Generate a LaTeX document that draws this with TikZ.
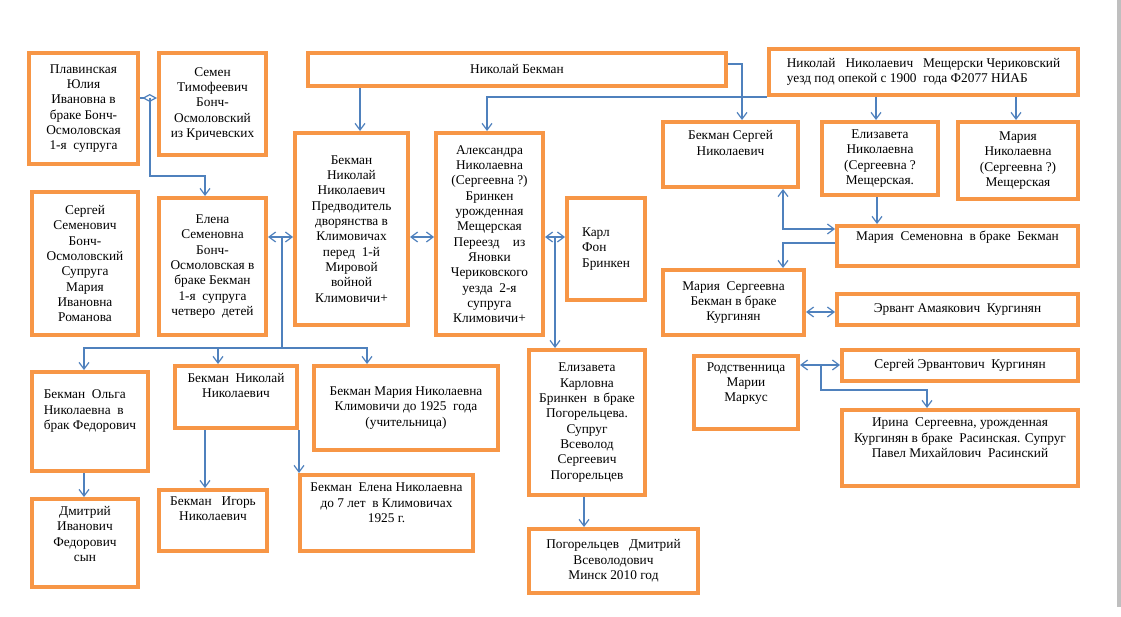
\documentclass[tikz,border=0pt]{standalone}
\usepackage{fontspec}
\setmainfont{Liberation Serif}
\usetikzlibrary{arrows.meta}
\definecolor{boxorange}{HTML}{F79646}
\definecolor{linkblue}{HTML}{4F81BD}

\begin{document}
\begin{tikzpicture}[x=0.75pt,y=-0.75pt,>={Straight Barb[length=5pt,width=7.5pt]},
  font=\fontsize{10}{11.5}\selectfont,
  person/.style 2 args={draw=boxorange,line width=3pt,minimum width=#1*0.75pt,
    minimum height=#2*0.75pt,inner sep=2pt,align=center},
  link/.style={draw=linkblue,line width=0.9pt}]
  \useasboundingbox[fill=white] (0,0) rectangle (1121,617);
  \fill[gray!50] (1117,0) rectangle (1121,607);

  % верхний ряд
  \node[person={109}{111}] (plav) at (83.5,108.5) {Плавинская\\Юлия\\Ивановна в\\браке Бонч-\\Осмоловская\\1-я~~супруга};
  \node[person={107}{102}] (semen) at (212.5,104) {Семен\\Тимофеевич\\Бонч-\\Осмоловский\\из Кричевских};
  \node[person={418}{33}] (nikb) at (517,69.5) {Николай Бекман};
  \node[person={309}{46},align=left] (nnm) at (923.5,72) {Николай~~~Николаевич~~~Мещерски Чериковский\\уезд под опекой с 1900~~года Ф2077 НИАБ};

  % второй ряд
  \node[person={135}{65}] (bsn) at (730.5,154.5) {Бекман Сергей\\Николаевич\\[6pt]};
  \node[person={116}{73}] (elizn) at (880,158.5) {Елизавета\\Николаевна\\(Сергеевна ?\\Мещерская.};
  \node[person={120}{77}] (marian) at (1018,160.5) {Мария\\Николаевна\\(Сергеевна ?)\\Мещерская};
  \node[person={241}{40}] (marsem) at (957.5,246) {Мария~~Семеновна~~в браке~~Бекман\\[4pt]};
  \node[person={113}{192}] (bnn) at (351.5,229) {Бекман\\Николай\\Николаевич\\Предводитель\\дворянства в\\Климовичах\\перед~~1-й\\Мировой\\войной\\Климовичи+};
  \node[person={107}{202}] (alex) at (489.5,234) {Александра\\Николаевна\\(Сергеевна ?)\\Бринкен\\урожденная\\Мещерская\\Переезд~~~~из\\Яновки\\Чериковского\\уезда~~2-я\\супруга\\Климовичи+};
  \node[person={78}{102},align=left] (karl) at (606,249) {Карл\\Фон\\Бринкен};
  \node[person={106}{143}] (sergs) at (85,263.5) {Сергей\\Семенович\\Бонч-\\Осмоловский\\Супруга\\Мария\\Ивановна\\Романова};
  \node[person={107}{137}] (elena) at (212.5,266.5) {Елена\\Семеновна\\Бонч-\\Осмоловская в\\браке Бекман\\1-я~~супруга\\четверо~~детей};
  \node[person={141}{65}] (marsk) at (733.5,302.5) {Мария~~Сергеевна\\Бекман в браке\\Кургинян};
  \node[person={241}{31}] (ervant) at (957.5,309.5) {Эрвант Амаякович~~Кургинян};

  % нижние ряды
  \node[person={104}{73}] (rodst) at (746,392.5) {Родственница\\Марии\\Маркус\\[4pt]};
  \node[person={236}{31}] (serge) at (960,365.5) {Сергей Эрвантович~~Кургинян};
  \node[person={236}{76}] (irina) at (960,448) {Ирина~~Сергеевна, урожденная\\Кургинян в браке~~Расинская. Супруг\\Павел Михайлович~~Расинский\\[4pt]};
  \node[person={116}{99},align=left] (olga) at (90,421.5) {Бекман~~Ольга\\Николаевна~~в\\брак Федорович\\[6pt]};
  \node[person={106}{88}] (dmitr) at (85,543) {Дмитрий\\Иванович\\Федорович\\сын\\[2pt]};
  \node[person={122}{62}] (nikn) at (236,397) {Бекман~~Николай\\Николаевич\\[6pt]};
  \node[person={108}{61}] (igor) at (213,520.5) {Бекман~~~Игорь\\Николаевич\\[6pt]};
  \node[person={184}{84}] (marnk) at (406,408) {Бекман Мария Николаевна\\Климовичи до 1925~~года\\(учительница)};
  \node[person={173}{76}] (elenan) at (386.5,513) {Бекман~~Елена Николаевна\\до 7 лет~~в Климовичах\\1925 г.\\[4pt]};
  \node[person={116}{145}] (elizk) at (587,422.5) {Елизавета\\Карловна\\Бринкен~~в браке\\Погорельцева.\\Супруг\\Всеволод\\Сергеевич\\Погорельцев};
  \node[person={169}{64}] (pogor) at (613.5,561) {Погорельцев~~~Дмитрий\\Всеволодович\\Минск 2010 год};

  % связи
  \coordinate (plavsemen) at (150,98);
  \draw[link,-{Diamond[open,length=11pt,width=6pt]}] (plav.east |- plavsemen) -- (semen.west |- plavsemen);
  \draw[link,->] (plavsemen) -- (150,176) -| (elena.north -| 205,0);
  \draw[link,->] (nikb.south -| 360,0) -- (bnn.north -| 360,0);
  \draw[link,->] (nikb.east |- 0,64) -| (bsn.north -| 742,0);
  \draw[link,->] (nnm.south west) -| (alex.north -| 487,0);
  \draw[link,->] (nnm.south -| 876,0) -- (elizn.north -| 876,0);
  \draw[link,->] (nnm.south -| 1016,0) -- (marian.north -| 1016,0);
  \draw[link,->] (elizn.south -| 877,0) -- (marsem.north -| 877,0);
  \draw[link,<->] (bsn.south -| 783,0) |- (marsem.west |- 0,229);
  \draw[link,->] (marsem.west |- 0,243) -| (marsk.north -| 783,0);
  \draw[link,<->] (marsk.east |- 0,312) -- (ervant.west |- 0,312);
  \draw[link,<->] (rodst.east |- 0,365) -- (serge.west |- 0,365);
  \draw[link,->] (821,365) -- (821,390) -| (irina.north -| 927,0);

  % дети
  \coordinate (kids) at (282,348);
  \draw[link,<->] (elena.east |- 0,237) -- (bnn.west |- 0,237);
  \draw[link,->] (282,237) -- (kids) -| (olga.north -| 84,0);
  \draw[link,->] (kids) -| (marnk.north -| 367,0);
  \draw[link,->] (218,348) -- (nikn.north -| 218,0);
  \draw[link,<->] (bnn.east |- 0,237) -- (alex.west |- 0,237);
  \draw[link,<->] (alex.east |- 0,237) -- (karl.west |- 0,237);
  \draw[link,->] (555,237) -- (elizk.north -| 555,0);
  \draw[link,->] (olga.south -| 84,0) -- (dmitr.north -| 84,0);
  \draw[link,->] (nikn.south -| 205,0) -- (igor.north -| 205,0);
  \draw[link,->] (nikn.south east) -- (elenan.north -| nikn.south east);
  \draw[link,->] (elizk.south -| 584,0) -- (pogor.north -| 584,0);
\end{tikzpicture}
\end{document}
